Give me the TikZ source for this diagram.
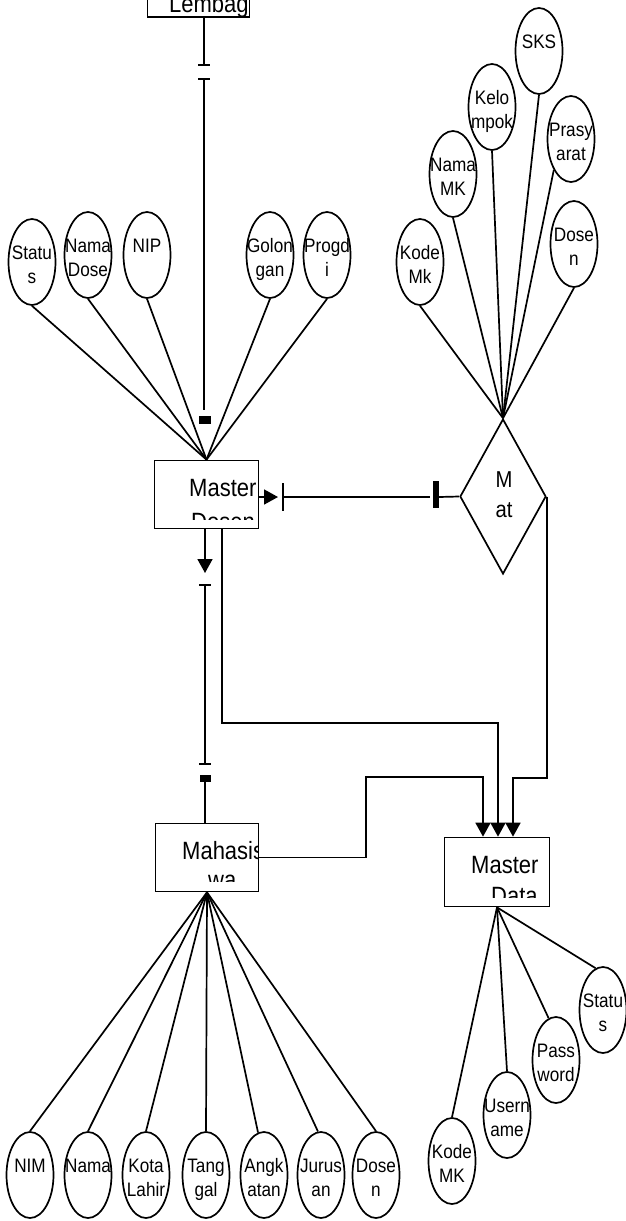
\documentclass[tikz,border=0pt]{standalone}
\usepackage{fontspec}
\setmainfont{Liberation Sans}[FakeStretch=0.88]
\usetikzlibrary{shapes.geometric,arrows.meta,calc}
\tikzset{
 ln/.style={line width=1.7pt},
 attrshape/.style={ellipse,draw,line width=1.7pt,minimum width=47pt,minimum height=86pt,inner sep=0pt},
 ent/.style={rectangle,draw,line width=1.7pt,inner sep=0pt},
 txt/.style={inner sep=0pt,font=\fontsize{19.5}{24}\selectfont},
 btxt/.style={inner sep=0pt,anchor=base west,font=\fontsize{25}{30}\selectfont},
 dtxt/.style={inner sep=0pt,anchor=base,font=\fontsize{23}{28}\selectfont},
 tip/.style={-{Triangle[length=14pt,width=15pt]}},
}
\newcommand\attrell[4]{%
  \node[attrshape] (#1) at (#2,#3) {};
  \begin{scope}
    \clip (#2,#3) ellipse [x radius=23.5, y radius=43];
    \node[txt,anchor=base] (#1t) at (#2,#3-3) {\begin{tabular}[t]{@{}c@{}}#4\end{tabular}};
  \end{scope}}
\begin{document}
\begin{tikzpicture}[x=1pt,y=-1pt]
\useasboundingbox (0,0) rectangle (626,1221);
\fill[white] (0,0) rectangle (626,1221);
\clip (0,0) rectangle (626,1221);

% ---------- entities ----------
\node[ent,minimum width=102pt,minimum height=60pt] (lem) at (198.5,-13) {};
\begin{scope}\clip (148,0) rectangle (248,17);
  \node[btxt] (lemt) at (169,12.5) {Lembag};
\end{scope}

\node[ent,minimum width=104pt,minimum height=68pt] (md) at (206.5,494.5) {};
\begin{scope}\clip (155,461) rectangle (258,519);
  \node[btxt] (mdt1) at (189,496) {Master};
  \node[btxt] (mdt2) at (191,530) {Dosen};
\end{scope}

\node[ent,minimum width=103pt,minimum height=68pt] (mhs) at (207,857.5) {};
\begin{scope}\clip (156,824) rectangle (258,881);
  \node[btxt] (mhst1) at (182,859) {Mahasis};
  \node[btxt] (mhst2) at (208,888) {wa};
\end{scope}

\node[ent,minimum width=105pt,minimum height=69pt] (mdata) at (497,872) {};
\begin{scope}\clip (445,838) rectangle (549,897);
  \node[btxt] (mdatat1) at (471,873) {Master};
  \node[btxt] (mdatat2) at (491,904) {Data};
\end{scope}

\node[diamond,draw,line width=1.7pt,minimum width=86pt,minimum height=155pt,inner sep=0pt] (mat) at (503,496.5) {};
\node[dtxt] (matt1) at (504,487) {M};
\node[dtxt] (matt2) at (504,517) {at};

% ---------- attributes ----------
\attrell{st1}{32}{262}{Statu\\s}
\attrell{nd}{88}{255}{Nama\\Dose}
\attrell{nip}{147}{255}{NIP}
\attrell{gol}{270}{255}{Golon\\gan}
\attrell{prg}{327}{255}{Progd\\i}

\attrell{km}{420}{262}{Kode\\Mk}
\attrell{nmk}{453}{174}{Nama\\MK}
\attrell{kel}{492}{107}{Kelo\\mpok}
\attrell{sks}{539}{51}{SKS}
\attrell{pra}{571}{139}{Prasy\\arat}
\attrell{dsn1}{574}{244}{Dose\\n}

\attrell{nim}{30}{1175}{NIM}
\attrell{nama}{88}{1175}{Nama}
\attrell{kota}{146}{1175}{Kota\\Lahir}
\attrell{tgl}{206}{1175}{Tang\\gal}
\attrell{ang}{264}{1175}{Angk\\atan}
\attrell{jur}{321}{1175}{Jurus\\an}
\attrell{dsn2}{376}{1175}{Dose\\n}

\attrell{kmk}{452}{1161}{Kode\\MK}
\attrell{usr}{507}{1115}{Usern\\ame}
\attrell{pwd}{556}{1060}{Pass\\word}
\attrell{st2}{603}{1010}{Statu\\s}

% ---------- attribute links ----------
\foreach \a in {st1,nd,nip,gol,prg} \draw[ln] (\a.south) -- (md.north);
\foreach \a in {km,nmk,kel,sks,dsn1} \draw[ln] (\a.south) -- (mat.north);
\draw[ln] (pra.south west) -- (mat.north);
\foreach \a in {nim,nama,kota,tgl,dsn2} \draw[ln] (\a.north) -- (mhs.south);
\draw[ln] (ang.98) -- (mhs.south);
\draw[ln] (jur.94) -- (mhs.south);
\draw[ln] (kmk.north) -- (mdata.south);
\draw[ln] (usr.north) -- (mdata.south);
\draw[ln] (pwd.100) -- (mdata.south);
\draw[ln] (st2.100) -- (mdata.south);

% ---------- Lembaga -- Master Dosen ----------
\coordinate (c1) at (204,65);
\coordinate (c2) at (204,79);
\coordinate (c3) at (204,410);
\coordinate (c4) at (205,420);
\draw[ln] (lem.south -| c1) -- (c1);
\draw[ln] ($(c1)+(-6,0)$) -- ($(c1)+(6,0)$);
\draw[ln] ($(c2)+(-6,0)$) -- ($(c2)+(6,0)$);
\draw[ln] (c2) -- (c3);
\fill ($(c4)+(-6,-4)$) rectangle ($(c4)+(6,4)$);

% ---------- Master Dosen -- Mahasiswa ----------
\coordinate (d1) at (205,573);
\coordinate (d2) at (205,585);
\coordinate (d3) at (205,764);
\coordinate (d4) at (205,778.5);
\coordinate (d5) at (205,782);
\draw[ln,tip] (md.south -| d1) -- (d1);
\draw[ln] ($(d2)+(-6,0)$) -- ($(d2)+(6,0)$);
\draw[ln] (d2) -- (d3);
\draw[ln] ($(d3)+(-6,0)$) -- ($(d3)+(6,0)$);
\fill ($(d4)+(-5.5,-3.5)$) rectangle ($(d4)+(5.5,3.5)$);
\draw[ln] (d5) -- (mhs.north -| d5);

% ---------- Master Dosen -- Mat ----------
\coordinate (e1) at (278,497);
\coordinate (e2) at (283,497);
\coordinate (e3) at (430,497);
\coordinate (e4) at (439,497);
\draw[ln,tip] (md.east |- e1) -- (e1);
\draw[ln] ($(e2)+(0,-14)$) -- ($(e2)+(0,14)$);
\draw[ln] (e2) -- (e3);
\fill ($(e3)+(3,-16)$) rectangle ($(e4)+(0,11)$);
\draw[ln] (e4) -- (mat.west);

% ---------- links to Master Data ----------
\coordinate (f1) at (222,723);
\coordinate (f2) at (498,723);
\draw[ln,tip] (md.south -| f1) -- (f1) -- (f2) -- (f2 |- mdata.north);
\coordinate (g2) at (513,778);
\draw[ln,tip] (mat.east) -- (mat.east |- g2) -- (g2) -- (g2 |- mdata.north);
\coordinate (h1) at (366,777);
\coordinate (h2) at (483,777);
\draw[ln,tip] (mhs.east) -- (mhs.east -| h1) -- (h1) -- (h2) -- (h2 |- mdata.north);
\end{tikzpicture}
\end{document}
